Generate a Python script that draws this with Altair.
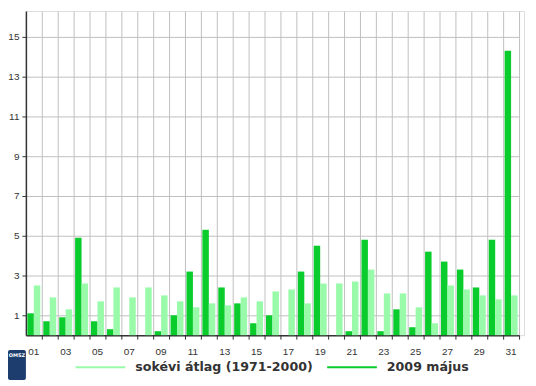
import altair as alt
import pandas as pd

days = ["01", "02", "03", "04", "05", "06", "07", "08", "09", "10",
        "11", "12", "13", "14", "15", "16", "17", "18", "19", "20",
        "21", "22", "23", "24", "25", "26", "27", "28", "29", "30", "31"]
may2009 = [1.1, 0.7, 0.9, 4.9, 0.7, 0.3, 0.0, 0.0, 0.2, 1.0,
           3.2, 5.3, 2.4, 1.6, 0.6, 1.0, 0.0, 3.2, 4.5, 0.0,
           0.2, 4.8, 0.2, 1.3, 0.4, 4.2, 3.7, 3.3, 2.4, 4.8, 14.3]
avg_1971_2000 = [2.5, 1.9, 1.3, 2.6, 1.7, 2.4, 1.9, 2.4, 2.0, 1.7,
                 1.4, 1.6, 1.5, 1.9, 1.7, 2.2, 2.3, 1.6, 2.6, 2.6,
                 2.7, 3.3, 2.1, 2.1, 1.4, 0.6, 2.5, 2.3, 2.0, 1.8, 2.0]
series_names = ["sokévi átlag (1971-2000)", "2009 május"]
series_colors = ["#99fba9", "#0acc2d"]
y_ticks = [1, 2, 3, 4, 5, 6, 7, 8, 9, 10, 11, 12, 13, 14, 15, 16]
logo_text = ["OMSZ"]

rows = []
for d, a, m in zip(days, avg_1971_2000, may2009):
    rows.append({"day": d, "series": series_names[1], "value": m})
    rows.append({"day": d, "series": series_names[0], "value": a})
df = pd.DataFrame(rows)

FONT = "DejaVu Sans"
AXFONT = "Liberation Sans"

legend = alt.Legend(
    title=None,
    orient="none",
    legendX=49,
    legendY=332,
    direction="horizontal",
    symbolType="stroke",
    symbolSize=2500,
    symbolStrokeWidth=2,
    labelFont=FONT,
    labelFontSize=12.7,
    labelFontWeight="bold",
    labelColor="#333333",
    labelOffset=9,
    columnPadding=10,
    padding=0,
    labelLimit=400,
)

color_scale = alt.Scale(domain=series_names, range=series_colors)

bars = alt.Chart(df).mark_bar().encode(
    x=alt.X(
        "day:O",
        sort=days,
        title=None,
        scale=alt.Scale(range=[0, 496], paddingInner=0, paddingOuter=0),
        axis=alt.Axis(
            bandPosition=1,
            labelAngle=0,
            labelExpr="parseInt(datum.value) % 2 == 1 ? datum.label : ''",
            grid=True,
            gridColor="#c0c0c0",
            gridWidth=1,
            tickSize=4,
            tickColor="#333333",
            domainColor="#333333",
            domainWidth=1.5,
            labelPadding=7,
            labelFont=AXFONT,
            labelFontSize=10,
            labelColor="#333333",
        ),
    ),
    xOffset=alt.XOffset(
        "series:N",
        sort=[series_names[1], series_names[0]],
        scale=alt.Scale(paddingOuter=0.23, paddingInner=0),
    ),
    y=alt.Y(
        "value:Q",
        title=None,
        scale=alt.Scale(domain=[0, 16.3], nice=False),
        axis=alt.Axis(
            values=y_ticks,
            labelExpr="datum.value % 2 == 1 ? datum.label : ''",
            grid=True,
            gridColor="#c0c0c0",
            gridWidth=1,
            gridOpacity={"condition": {"test": "datum.value % 2 == 0", "value": 0}, "value": 1},
            tickSize=4,
            tickColor="#333333",
            domainColor="#333333",
            domainWidth=1.5,
            labelPadding=3,
            labelFont=AXFONT,
            labelFontSize=10,
            labelColor="#333333",
        ),
    ),
    color=alt.Color("series:N", scale=color_scale, legend=legend),
)

legend_lines = alt.Chart(df).transform_filter("false").mark_line(strokeWidth=2).encode(
    x=alt.X("day:O", sort=days),
    y=alt.Y("value:Q"),
    color=alt.Color("series:N", scale=color_scale, legend=legend),
)

logo_df = pd.DataFrame({"t": logo_text})
logo_rect = alt.Chart(logo_df).mark_rect(color="#1d3d6e", cornerRadius=2).encode(
    x=alt.value(-18), x2=alt.value(0), y=alt.value(341), y2=alt.value(371)
)
logo_txt = alt.Chart(logo_df).mark_text(
    color="white", fontSize=5, font=FONT, fontWeight="bold"
).encode(text="t:N", x=alt.value(-9), y=alt.value(346))

chart = alt.layer(bars, legend_lines, logo_rect, logo_txt).properties(
    width=501,
    height=326,
    autosize=alt.AutoSizeParams(type="none"),
    padding={"left": 18, "top": 2, "right": 4, "bottom": 44},
).configure_view(stroke=None).configure(background="white")

chart.save("out.html", embed_options={"renderer": "svg", "actions": False})
